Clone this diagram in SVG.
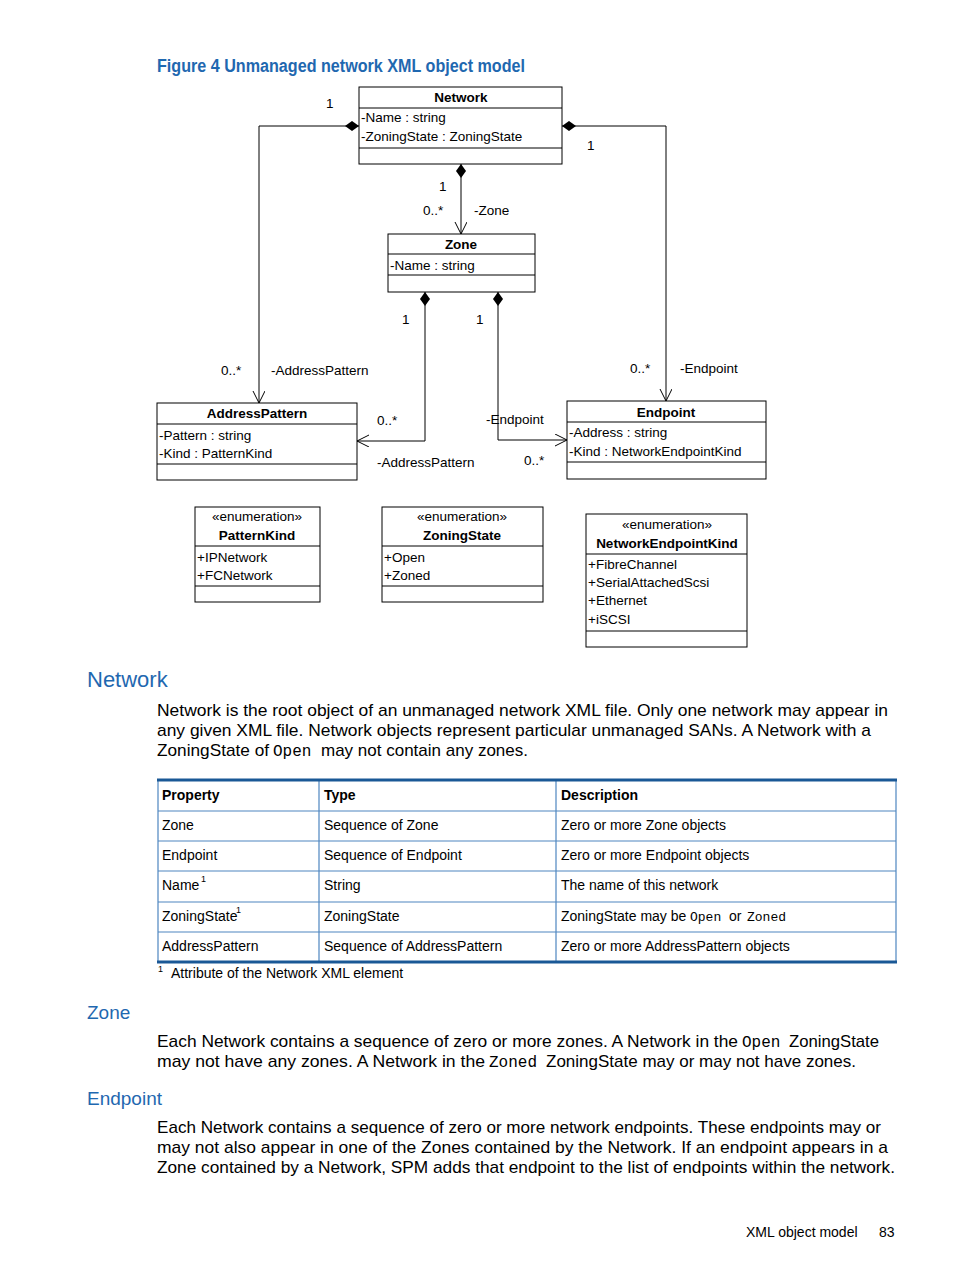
<svg xmlns="http://www.w3.org/2000/svg" width="954" height="1271" viewBox="0 0 954 1271">
<style>
.bx{fill:#fff;stroke:#000;stroke-width:1}
.ln{fill:none;stroke:#000;stroke-width:1}
.d{font-family:"Liberation Sans",Arial,sans-serif;font-size:13.5px;fill:#000}
.b{font-weight:bold}
.c{text-anchor:middle}
.p{font-family:"Liberation Sans",Arial,sans-serif;font-size:17px;fill:#000}
.m{font-family:"Liberation Mono","Courier New",monospace;fill:#000}
.t{font-family:"Liberation Sans",Arial,sans-serif;font-size:14px;fill:#000}
.s{font-family:"Liberation Sans",Arial,sans-serif;font-size:9px;fill:#000}
.h{font-family:"Liberation Sans",Arial,sans-serif;fill:#1f68b0}
</style>
<defs>
<marker id="dia" markerWidth="16" markerHeight="10" refX="0" refY="5" orient="auto" markerUnits="userSpaceOnUse">
<path d="M0,5 L7,0 L14,5 L7,10 Z" fill="#000"/>
</marker>
<marker id="arr" markerWidth="14" markerHeight="14" refX="12" refY="6" orient="auto" markerUnits="userSpaceOnUse">
<path d="M0,0 L12,6 L0,12" fill="none" stroke="#000" stroke-width="1"/>
</marker>
</defs>
<rect width="954" height="1271" fill="#fff"/>
<text x="157" y="72" class="h b" font-size="18" textLength="368" lengthAdjust="spacingAndGlyphs" fill="#1a5a9a">Figure 4 Unmanaged network XML object model</text>

<g id="connectors">
<path class="ln" d="M359,126 L259,126 L259,403" marker-start="url(#dia)" marker-end="url(#arr)"/>
<path class="ln" d="M562,126 L666,126 L666,401" marker-start="url(#dia)" marker-end="url(#arr)"/>
<path class="ln" d="M461,164 L461,234" marker-start="url(#dia)" marker-end="url(#arr)"/>
<path class="ln" d="M425,292 L425,441 L357,441" marker-start="url(#dia)" marker-end="url(#arr)"/>
<path class="ln" d="M498,292 L498,440 L567,440" marker-start="url(#dia)" marker-end="url(#arr)"/>
<text class="d" x="326" y="108">1</text>
<text class="d" x="587" y="150">1</text>
<text class="d" x="439" y="191">1</text>
<text class="d" x="423" y="215">0..*</text>
<text class="d" x="474" y="215">-Zone</text>
<text class="d" x="402" y="324">1</text>
<text class="d" x="476" y="324">1</text>
<text class="d" x="221" y="375">0..*</text>
<text class="d" x="271" y="375">-AddressPattern</text>
<text class="d" x="630" y="373">0..*</text>
<text class="d" x="680" y="373">-Endpoint</text>
<text class="d" x="377" y="425">0..*</text>
<text class="d" x="377" y="467">-AddressPattern</text>
<text class="d" x="486" y="424">-Endpoint</text>
<text class="d" x="524" y="465">0..*</text>
</g>

<g id="network">
<rect class="bx" x="359" y="87" width="203" height="77"/>
<path class="ln" d="M359,108 H562 M359,148 H562"/>
<text class="d b c" x="461" y="102">Network</text>
<text class="d" x="361" y="122">-Name : string</text>
<text class="d" x="361" y="141">-ZoningState : ZoningState</text>
</g>

<g id="zone">
<rect class="bx" x="388" y="234" width="147" height="58"/>
<path class="ln" d="M388,254 H535 M388,275 H535"/>
<text class="d b c" x="461" y="249">Zone</text>
<text class="d" x="390" y="270">-Name : string</text>
</g>

<g id="addresspattern">
<rect class="bx" x="157" y="403" width="200" height="77"/>
<path class="ln" d="M157,424 H357 M157,464 H357"/>
<text class="d b c" x="257" y="418">AddressPattern</text>
<text class="d" x="159" y="440">-Pattern : string</text>
<text class="d" x="159" y="458">-Kind : PatternKind</text>
</g>

<g id="endpoint">
<rect class="bx" x="567" y="401" width="199" height="78"/>
<path class="ln" d="M567,422 H766 M567,462 H766"/>
<text class="d b c" x="666" y="417">Endpoint</text>
<text class="d" x="569" y="437">-Address : string</text>
<text class="d" x="569" y="456">-Kind : NetworkEndpointKind</text>
</g>

<g id="patternkind">
<rect class="bx" x="195" y="507" width="125" height="95"/>
<path class="ln" d="M195,546 H320 M195,586 H320"/>
<text class="d c" x="257" y="521">«enumeration»</text>
<text class="d b c" x="257" y="540">PatternKind</text>
<text class="d" x="197" y="562">+IPNetwork</text>
<text class="d" x="197" y="580">+FCNetwork</text>
</g>

<g id="zoningstate">
<rect class="bx" x="382" y="507" width="161" height="95"/>
<path class="ln" d="M382,546 H543 M382,586 H543"/>
<text class="d c" x="462" y="521">«enumeration»</text>
<text class="d b c" x="462" y="540">ZoningState</text>
<text class="d" x="384" y="562">+Open</text>
<text class="d" x="384" y="580">+Zoned</text>
</g>

<g id="networkendpointkind">
<rect class="bx" x="586" y="514" width="161" height="133"/>
<path class="ln" d="M586,554 H747 M586,631 H747"/>
<text class="d c" x="667" y="529">«enumeration»</text>
<text class="d b c" x="667" y="548">NetworkEndpointKind</text>
<text class="d" x="588" y="569">+FibreChannel</text>
<text class="d" x="588" y="587">+SerialAttachedScsi</text>
<text class="d" x="588" y="605">+Ethernet</text>
<text class="d" x="588" y="624">+iSCSI</text>
</g>

<text class="h" x="87" y="687" font-size="22">Network</text>
<text class="p" x="157" y="716" textLength="731" lengthAdjust="spacingAndGlyphs">Network is the root object of an unmanaged network XML file. Only one network may appear in</text>
<text class="p" x="157" y="736" textLength="714" lengthAdjust="spacingAndGlyphs">any given XML file. Network objects represent particular unmanaged SANs. A Network with a</text>
<text class="p" x="157" y="756" textLength="112" lengthAdjust="spacingAndGlyphs">ZoningState of</text>
<text class="m" x="273" y="756" font-size="16">Open</text>
<text class="p" x="321" y="756" textLength="207" lengthAdjust="spacingAndGlyphs">may not contain any zones.</text>

<g id="table">
<path d="M158,811 H896 M158,841 H896 M158,871 H896 M158,902 H896 M158,932 H896" stroke="#4f86c0" stroke-width="1.2" fill="none"/>
<path d="M158,779 V963 M319,779 V963 M556,779 V963 M896,779 V963" stroke="#4f86c0" stroke-width="1.2" fill="none"/>
<path d="M157,780 H897 M157,962 H897" stroke="#1a5896" stroke-width="3" fill="none"/>
<text class="t b" x="162" y="800">Property</text>
<text class="t b" x="324" y="800">Type</text>
<text class="t b" x="561" y="800">Description</text>
<text class="t" x="162" y="830">Zone</text>
<text class="t" x="324" y="830">Sequence of Zone</text>
<text class="t" x="561" y="830">Zero or more Zone objects</text>
<text class="t" x="162" y="860">Endpoint</text>
<text class="t" x="324" y="860">Sequence of Endpoint</text>
<text class="t" x="561" y="860">Zero or more Endpoint objects</text>
<text class="t" x="162" y="890">Name</text>
<text class="s" x="201" y="882">1</text>
<text class="t" x="324" y="890">String</text>
<text class="t" x="561" y="890">The name of this network</text>
<text class="t" x="162" y="921">ZoningState</text>
<text class="s" x="236" y="913">1</text>
<text class="t" x="324" y="921">ZoningState</text>
<text class="t" x="561" y="921">ZoningState may be</text>
<text class="m" x="690" y="921" font-size="13">Open</text>
<text class="t" x="729" y="921">or</text>
<text class="m" x="747" y="921" font-size="13">Zoned</text>
<text class="t" x="162" y="951">AddressPattern</text>
<text class="t" x="324" y="951">Sequence of AddressPattern</text>
<text class="t" x="561" y="951">Zero or more AddressPattern objects</text>
<text class="s" x="158" y="972">1</text>
<text class="t" x="171" y="978">Attribute of the Network XML element</text>
</g>

<text class="h" x="87" y="1019" font-size="19">Zone</text>
<text class="p" x="157" y="1047" textLength="581" lengthAdjust="spacingAndGlyphs">Each Network contains a sequence of zero or more zones. A Network in the</text>
<text class="m" x="742" y="1047" font-size="16">Open</text>
<text class="p" x="789" y="1047" textLength="90" lengthAdjust="spacingAndGlyphs">ZoningState</text>
<text class="p" x="157" y="1067" textLength="328" lengthAdjust="spacingAndGlyphs">may not have any zones. A Network in the</text>
<text class="m" x="489" y="1067" font-size="16">Zoned</text>
<text class="p" x="546" y="1067" textLength="310" lengthAdjust="spacingAndGlyphs">ZoningState may or may not have zones.</text>

<text class="h" x="87" y="1105" font-size="19">Endpoint</text>
<text class="p" x="157" y="1133" textLength="724" lengthAdjust="spacingAndGlyphs">Each Network contains a sequence of zero or more network endpoints. These endpoints may or</text>
<text class="p" x="157" y="1153" textLength="731" lengthAdjust="spacingAndGlyphs">may not also appear in one of the Zones contained by the Network. If an endpoint appears in a</text>
<text class="p" x="157" y="1173" textLength="738" lengthAdjust="spacingAndGlyphs">Zone contained by a Network, SPM adds that endpoint to the list of endpoints within the network.</text>

<text class="t" x="746" y="1237">XML object model</text>
<text class="t" x="879" y="1237">83</text>
</svg>
